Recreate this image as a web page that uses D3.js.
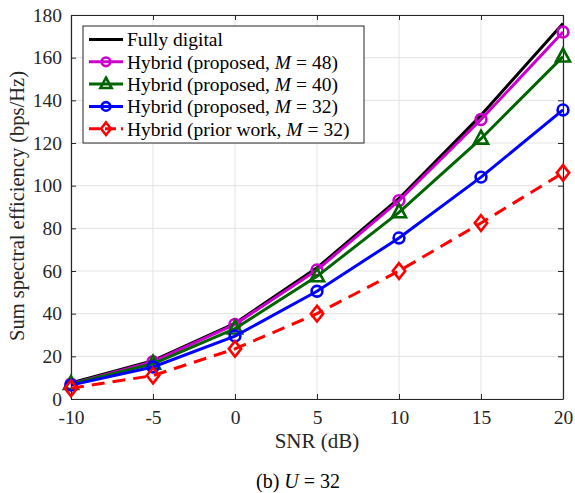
<!DOCTYPE html>
<html><head><meta charset="utf-8">
<script src="https://cdn.jsdelivr.net/npm/d3@7"></script>
<style>body{margin:0;background:#fff}svg{display:block}</style>
</head><body>
<script>
const snr = [-10, -5, 0, 5, 10, 15, 20];
const fullyDigital = [7.5, 18, 35.5, 61.5, 94, 133, 176];
const hybridM48 = [7, 17.5, 35, 60.5, 93, 131, 172];
const hybridM40 = [7, 16.5, 33, 57.5, 87.5, 122, 160.5];
const hybridM32 = [6.5, 15, 29.5, 50.5, 75.5, 104, 135.5];
const priorM32 = [5, 11, 23.5, 40, 60, 82.5, 106];
const xTicks = [-10, -5, 0, 5, 10, 15, 20];
const yTicks = [0, 20, 40, 60, 80, 100, 120, 140, 160, 180];

const series = [
  {name: "Fully digital", values: fullyDigital, color: "#000000", marker: "none", dash: null},
  {label: ["Hybrid (proposed, ", "M", "= 48)"], values: hybridM48, color: "#cc00cc", marker: "circle", dash: null},
  {label: ["Hybrid (proposed, ", "M", "= 40)"], values: hybridM40, color: "#006400", marker: "triangle", dash: null},
  {label: ["Hybrid (proposed, ", "M", "= 32)"], values: hybridM32, color: "#0000ff", marker: "circle", dash: null},
  {label: ["Hybrid (prior work, ", "M", "= 32)"], values: priorM32, color: "#ff0000", marker: "diamond", dash: "13,8"}
];

const FONT = '"Liberation Serif", "DejaVu Serif", "Times New Roman", serif';
const W = 575, H = 493;
const m = {left: 71, right: 563, top: 15, bottom: 399};
const svg = d3.select("body").append("svg").attr("width", W).attr("height", H)
  .attr("font-family", FONT);
const x = d3.scaleLinear().domain([-10, 20]).range([m.left, m.right]);
const y = d3.scaleLinear().domain([0, 180]).range([m.bottom, m.top]);

// grid
const g = svg.append("g");
g.selectAll(".gx").data(xTicks).enter().append("line")
  .attr("x1", d => x(d)).attr("x2", d => x(d)).attr("y1", m.top).attr("y2", m.bottom)
  .attr("stroke", "#e3e3e3").attr("stroke-width", 1);
g.selectAll(".gy").data(yTicks).enter().append("line")
  .attr("y1", d => y(d)).attr("y2", d => y(d)).attr("x1", m.left).attr("x2", m.right)
  .attr("stroke", "#e3e3e3").attr("stroke-width", 1);

// axes
const axCol = "#262626";
const xAxis = svg.append("g").attr("transform", `translate(0,${m.bottom})`)
  .call(d3.axisBottom(x).tickValues(xTicks).tickSizeInner(-5).tickSizeOuter(0).tickPadding(11).tickFormat(d => String(d)));
const xAxisTop = svg.append("g").attr("transform", `translate(0,${m.top})`)
  .call(d3.axisTop(x).tickValues(xTicks).tickSizeInner(-5).tickSizeOuter(0).tickFormat(""));
const yAxis = svg.append("g").attr("transform", `translate(${m.left},0)`)
  .call(d3.axisLeft(y).tickValues(yTicks).tickSizeInner(-5).tickSizeOuter(0).tickPadding(9).tickFormat(d => String(d)));
const yAxisR = svg.append("g").attr("transform", `translate(${m.right},0)`)
  .call(d3.axisRight(y).tickValues(yTicks).tickSizeInner(-5).tickSizeOuter(0).tickFormat(""));
[xAxis, xAxisTop, yAxis, yAxisR].forEach(a => {
  a.attr("font-family", FONT).attr("font-size", 19.5);
  a.selectAll("path").attr("stroke", axCol).attr("stroke-width", 1.2);
  a.selectAll("line").attr("stroke", axCol).attr("stroke-width", 1);
  a.selectAll("text").attr("fill", axCol);
});
xAxis.selectAll("text").attr("dy", "0.71em");

// markers
function markerPath(type, s) {
  if (type === "circle") { const r = 5.4 * s; return `M${r},0A${r},${r} 0 1,1 ${-r},0A${r},${r} 0 1,1 ${r},0Z`; }
  if (type === "triangle") { const w = 7 * s, h = 13 * s; return `M0,${-h * 0.62}L${w},${h * 0.38}L${-w},${h * 0.38}Z`; }
  if (type === "diamond") { const w = 6.2 * s, h = 7.8 * s; return `M0,${-h}L${w},0L0,${h}L${-w},0Z`; }
  return null;
}
function drawMarker(sel, sr, cx, cy, sc) {
  if (sr.marker === "none") return;
  sel.append("path").attr("d", markerPath(sr.marker, sc)).attr("transform", `translate(${cx},${cy})`)
    .attr("fill", "none").attr("stroke", sr.color).attr("stroke-width", 2.6);
}
const line = d3.line().x((d, i) => x(snr[i])).y(d => y(d));
series.forEach(s => {
  const gg = svg.append("g");
  gg.append("path").datum(s.values).attr("d", line).attr("fill", "none")
    .attr("stroke", s.color).attr("stroke-width", 3)
    .attr("stroke-dasharray", s.dash);
  s.values.forEach((v, i) => drawMarker(gg, s, x(snr[i]), y(v), 1));
});

// axis labels
svg.append("text").attr("x", x(5)).attr("y", 448).attr("text-anchor", "middle")
  .attr("font-size", 21).attr("fill", "#262626").text("SNR (dB)");
svg.append("text").attr("transform", `translate(24,${(m.top + m.bottom) / 2 - 1}) rotate(-90)`)
  .attr("text-anchor", "middle").attr("font-size", 20.5).attr("fill", "#262626").text("Sum spectral efficiency (bps/Hz)");
const cap = svg.append("text").attr("x", 298).attr("y", 488).attr("text-anchor", "middle").attr("font-size", 20).attr("fill", "#000");
cap.append("tspan").text("(b) ");
cap.append("tspan").attr("font-style", "italic").text("U");
cap.append("tspan").attr("dx", 5).text("=");
cap.append("tspan").attr("dx", 5).text("32");

// legend
const lg = svg.append("g");
lg.append("rect").attr("x", 83).attr("y", 26).attr("width", 281).attr("height", 117)
  .attr("fill", "#fff").attr("stroke", "#262626").attr("stroke-width", 1);
series.forEach((s, i) => {
  const ly = 39.5 + i * 22.3;
  lg.append("line").attr("x1", 89).attr("x2", 123).attr("y1", ly).attr("y2", ly)
    .attr("stroke", s.color).attr("stroke-width", 3).attr("stroke-dasharray", s.dash ? "11,5" : null);
  drawMarker(lg, s, 106, ly, 0.8);
  const t = lg.append("text").attr("x", 127).attr("y", ly).attr("dy", "0.35em").attr("font-size", 19.5).attr("fill", "#000");
  if (s.label) {
    t.append("tspan").text(s.label[0]);
    t.append("tspan").attr("font-style", "italic").text(s.label[1]);
    t.append("tspan").attr("dx", 5).text(s.label[2].slice(0, 1));
    t.append("tspan").attr("dx", 5).text(s.label[2].slice(2));
  } else t.text(s.name);
});
</script>
</body></html>
